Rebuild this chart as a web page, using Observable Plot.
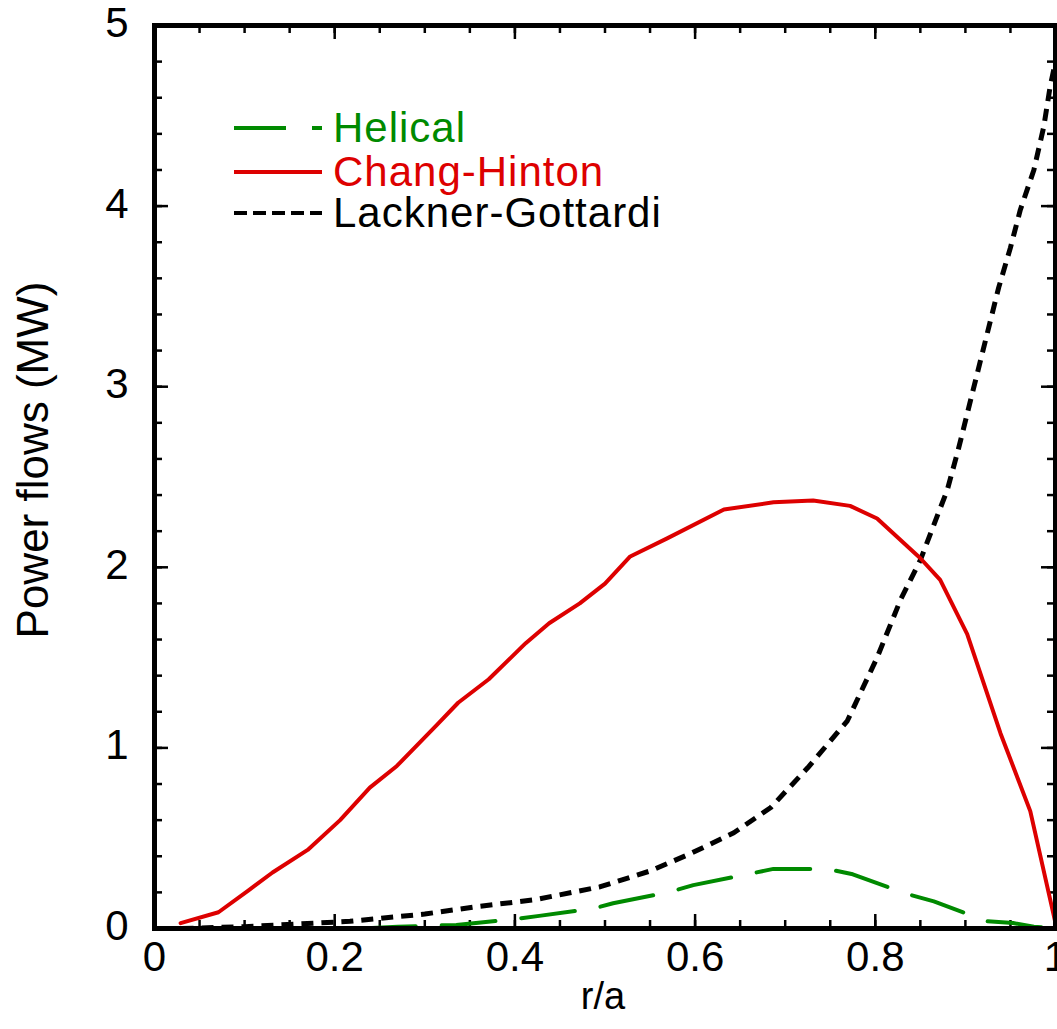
<!DOCTYPE html>
<html>
<head>
<meta charset="utf-8">
<script src="https://cdn.jsdelivr.net/npm/d3@7"></script>
<script src="https://cdn.jsdelivr.net/npm/@observablehq/plot@0.6"></script>
<style>
  html, body { margin: 0; padding: 0; background: #fff; }
  #wrap { position: relative; width: 1057px; height: 1029px; font-family: "Liberation Sans", Arial, Helvetica, sans-serif; }
  #legend { position: absolute; left: 0; top: 0; pointer-events: none; }
</style>
</head>
<body>
<div id="wrap"></div>
<script>
// ---- data ----
const helicalR = [0.23, 0.27, 0.335, 0.397, 0.427, 0.487, 0.509, 0.57, 0.598, 0.658, 0.687, 0.747, 0.775, 0.836, 0.865, 0.924, 0.953, 0.976, 1.0];
const helicalP = [0.0, 0.01, 0.02, 0.05, 0.07, 0.11, 0.14, 0.20, 0.24, 0.30, 0.33, 0.33, 0.30, 0.19, 0.15, 0.04, 0.03, 0.01, 0.0];

const changR = [0.029, 0.071, 0.104, 0.131, 0.170, 0.206, 0.239, 0.269, 0.314, 0.337, 0.371, 0.412, 0.438, 0.472, 0.50, 0.528, 0.569, 0.632, 0.687, 0.731, 0.772, 0.802, 0.850, 0.872, 0.902, 0.939, 0.972, 1.0];
const changP = [0.03, 0.09, 0.21, 0.31, 0.435, 0.60, 0.78, 0.90, 1.13, 1.25, 1.38, 1.58, 1.69, 1.80, 1.91, 2.06, 2.16, 2.32, 2.36, 2.37, 2.34, 2.27, 2.05, 1.93, 1.63, 1.08, 0.65, 0.03];

const lacknerR = [0.03, 0.10, 0.217, 0.30, 0.356, 0.423, 0.494, 0.551, 0.595, 0.643, 0.684, 0.725, 0.769, 0.802, 0.828, 0.85, 0.88, 0.892, 0.937, 0.95, 0.961, 0.976, 0.987, 0.994, 1.0];
const lacknerP = [0.0, 0.01, 0.04, 0.08, 0.12, 0.16, 0.23, 0.32, 0.415, 0.53, 0.67, 0.89, 1.15, 1.50, 1.82, 2.04, 2.43, 2.65, 3.55, 3.77, 3.98, 4.20, 4.44, 4.66, 4.80];

const xTickLabels = [0, 0.2, 0.4, 0.6, 0.8, 1];
const yTickLabels = [0, 1, 2, 3, 4, 5];
const seriesNames = ["Helical", "Chang-Hinton", "Lackner-Gottardi"];
const seriesColors = ["#008a00", "#dd0000", "#000000"];
const seriesDash = ["54,26", null, "12,8"];

// ---- build ----
const W = 1057, H = 1029;
const mL = 154, mR = 2, mT = 25, mB = 101;
const innerW = W - mL - mR, innerH = H - mT - mB;
const font = '"Liberation Sans", Arial, Helvetica, sans-serif';

const toRows = (r, p) => r.map((v, i) => ({r: v, p: p[i]}));
const helical = toRows(helicalR, helicalP);
const chang = toRows(changR, changP);
const lackner = toRows(lacknerR, lacknerP);

const xMinor = d3.range(1, 20).map(i => i / 20);
const yMinor = d3.range(1, 25).map(i => i / 5);
const majLen = 14, minLen = 8, tickW = 2.5;

const chart = Plot.plot({
  width: W, height: H,
  marginLeft: mL, marginRight: mR, marginTop: mT, marginBottom: mB,
  x: {domain: [0, 1], axis: null},
  y: {domain: [0, 5], axis: null},
  style: {fontFamily: font, background: "#fff", overflow: "visible"},
  marks: [
    // inward ticks: bottom, top
    Plot.tickX(xMinor, {x: d => d, insetTop: innerH - minLen, stroke: "#000", strokeWidth: tickW}),
    Plot.tickX(xTickLabels, {x: d => d, insetTop: innerH - majLen, stroke: "#000", strokeWidth: tickW}),
    Plot.tickX(xMinor, {x: d => d, insetBottom: innerH - minLen, stroke: "#000", strokeWidth: tickW}),
    Plot.tickX(xTickLabels, {x: d => d, insetBottom: innerH - majLen, stroke: "#000", strokeWidth: tickW}),
    // inward ticks: left, right
    Plot.tickY(yMinor, {y: d => d, insetRight: innerW - minLen, stroke: "#000", strokeWidth: tickW}),
    Plot.tickY(yTickLabels, {y: d => d, insetRight: innerW - majLen, stroke: "#000", strokeWidth: tickW}),
    Plot.tickY(yMinor, {y: d => d, insetLeft: innerW - minLen, stroke: "#000", strokeWidth: tickW}),
    Plot.tickY(yTickLabels, {y: d => d, insetLeft: innerW - majLen, stroke: "#000", strokeWidth: tickW}),
    // curves
    Plot.line(lackner, {x: "r", y: "p", stroke: seriesColors[2], strokeWidth: 5, strokeDasharray: seriesDash[2], strokeLinecap: "butt"}),
    Plot.line(helical, {x: "r", y: "p", stroke: seriesColors[0], strokeWidth: 4, strokeDasharray: seriesDash[0]}),
    Plot.line(chang, {x: "r", y: "p", stroke: seriesColors[1], strokeWidth: 4}),
    // frame
    Plot.frame({stroke: "#000", strokeWidth: 5}),
    // tick labels
    Plot.text(xTickLabels, {x: d => d, text: d => String(d), frameAnchor: "bottom", dy: 42, fontSize: 42, fill: "#000"}),
    Plot.text(yTickLabels, {y: d => d, text: d => String(d), frameAnchor: "left", textAnchor: "end", dx: -26, dy: -2, fontSize: 42, fill: "#000"}),
    // axis titles
    Plot.text(["r/a"], {text: d => d, frameAnchor: "bottom", dy: 80, dx: -2, fontSize: 38, fill: "#000"}),
    Plot.text(["Power flows (MW)"], {text: d => d, frameAnchor: "left", textAnchor: "middle", rotate: -90, dx: -121, dy: -17, fontSize: 44, fill: "#000"})
  ]
});

const wrap = document.getElementById("wrap");
wrap.appendChild(chart);

// legend overlay
const ns = "http://www.w3.org/2000/svg";
const leg = document.createElementNS(ns, "svg");
leg.setAttribute("id", "legend");
leg.setAttribute("width", W);
leg.setAttribute("height", H);
const rowsY = [128, 172, 213];
seriesNames.forEach((name, i) => {
  const ln = document.createElementNS(ns, "line");
  ln.setAttribute("x1", 234); ln.setAttribute("x2", 322);
  ln.setAttribute("y1", rowsY[i]); ln.setAttribute("y2", rowsY[i]);
  ln.setAttribute("stroke", seriesColors[i]);
  ln.setAttribute("stroke-width", 4);
  if (seriesDash[i]) ln.setAttribute("stroke-dasharray", i === 0 ? "52,26" : "13,6");
  leg.appendChild(ln);
  const tx = document.createElementNS(ns, "text");
  tx.setAttribute("x", 333);
  tx.setAttribute("y", rowsY[i] + 14);
  tx.setAttribute("fill", seriesColors[i]);
  tx.setAttribute("font-size", 42);
  tx.setAttribute("letter-spacing", 1);
  tx.setAttribute("font-family", font);
  tx.textContent = name;
  leg.appendChild(tx);
});
wrap.appendChild(leg);
</script>
</body>
</html>
